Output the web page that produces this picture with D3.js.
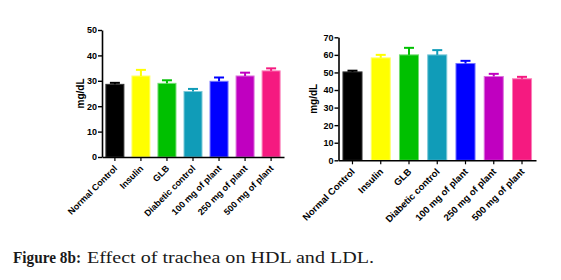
<!DOCTYPE html>
<html>
<head>
<meta charset="utf-8">
<script src="https://cdn.jsdelivr.net/npm/d3@7"></script>
<style>
  body { margin: 0; background: #fff; }
  svg text { font-family: 'Liberation Sans', Arial, sans-serif; }
  .tick text { font-weight: bold; font-size: 9px; }
</style>
</head>
<body>
<svg id="chart" width="561" height="280"></svg>
<script>
const groups = ['Normal Control', 'Insulin', 'GLB', 'Diabetic control', '100 mg of plant', '250 mg of plant', '500 mg of plant']
const barColors = ['#000000', '#ffff00', '#00c000', '#109cb8', '#0000ff', '#c000c0', '#f51a80']
// HDL (left panel)
const hdlMean = [28.6, 31.9, 29.0, 25.8, 29.8, 31.9, 33.9]
const hdlErr = [0.6, 2.4, 1.2, 1.0, 1.5, 1.3, 1.0]
const hdlTicks = [0, 10, 20, 30, 40, 50]
// LDL (right panel)
const ldlMean = [50.3, 58.3, 60.0, 60.0, 55.1, 47.7, 46.4]
const ldlErr = [0.7, 1.7, 4.0, 2.7, 1.5, 1.5, 1.1]
const ldlTicks = [0, 10, 20, 30, 40, 50, 60, 70]

const svg = d3.select('#chart')

let drawPanel = function (opts, means, errs, ticks) {
  let yScale = d3.scaleLinear()
    .domain([0, d3.max(ticks)])
    .range([opts.bottom, opts.top])
  let xScale = d3.scaleBand()
    .domain(groups)
    .range([opts.left, opts.right])
    .paddingInner(opts.padIn)
    .paddingOuter(opts.padOut)
  let g = svg.append('g')

  // bars
  g.selectAll('.bar')
    .data(means)
    .enter()
    .append('rect')
    .attr('x', (d, i) => xScale(groups[i]) + 0.5)
    .attr('width', xScale.bandwidth() - 1)
    .attr('y', d => yScale(d))
    .attr('height', d => yScale(0) - yScale(d))
    .style('fill', (d, i) => barColors[i])
    .style('stroke', (d, i) => d3.interpolateRgb(barColors[i], '#ffffff')(i === 0 ? 0.2 : 0.45))
    .style('stroke-width', 1)

  // error bars (upper only)
  let cx = i => xScale(groups[i]) + xScale.bandwidth() / 2
  g.selectAll('.errStem')
    .data(means)
    .enter()
    .append('line')
    .attr('x1', (d, i) => cx(i))
    .attr('x2', (d, i) => cx(i))
    .attr('y1', d => yScale(d))
    .attr('y2', (d, i) => yScale(d + errs[i]))
    .style('stroke', (d, i) => barColors[i])
    .style('stroke-width', 2)
  g.selectAll('.errCap')
    .data(means)
    .enter()
    .append('line')
    .attr('x1', (d, i) => cx(i) - 5)
    .attr('x2', (d, i) => cx(i) + 5)
    .attr('y1', (d, i) => yScale(d + errs[i]))
    .attr('y2', (d, i) => yScale(d + errs[i]))
    .style('stroke', (d, i) => barColors[i])
    .style('stroke-width', 2)

  // y axis
  let yAxis = g.append('g')
    .attr('transform', `translate(${opts.left},0)`)
    .call(d3.axisLeft(yScale).tickValues(ticks).tickSize(4).tickSizeOuter(0).tickPadding(1))
  yAxis.select('.domain').style('stroke-width', 1.6)
  yAxis.selectAll('.tick line').style('stroke-width', 1.4)
  yAxis.selectAll('.tick text').style('fill', '#000')

  // x axis
  let xAxis = g.append('g')
    .attr('transform', `translate(0,${opts.bottom})`)
    .call(d3.axisBottom(xScale).tickSize(4).tickSizeOuter(0).tickFormat(''))
  xAxis.select('.domain').style('stroke-width', 1.6)
  xAxis.selectAll('.tick line').style('stroke-width', 1.2)

  g.selectAll('.xlab')
    .data(groups)
    .enter()
    .append('text')
    .attr('transform', d => `translate(${xScale(d) + xScale.bandwidth() / 2 + 3},${opts.bottom + 12}) rotate(-45)`)
    .attr('text-anchor', 'end')
    .style('font-size', opts.labSize + 'px')
    .style('font-weight', 'bold')
    .text(d => d)

  // y title
  g.append('text')
    .attr('transform', `translate(${opts.titleX},${(opts.top + opts.bottom) / 2}) rotate(-90)`)
    .attr('text-anchor', 'middle')
    .style('font-size', '10px')
    .style('font-weight', 'bold')
    .text('mg/dL')
}

drawPanel({left: 102, right: 284, top: 30, bottom: 157, padIn: 0.27, padOut: 0.13, titleX: 84, labSize: 9}, hdlMean, hdlErr, hdlTicks)
drawPanel({left: 338.5, right: 536, top: 37.3, bottom: 160.3, padIn: 0.29, padOut: 0.14, titleX: 317, labSize: 9.5}, ldlMean, ldlErr, ldlTicks)

// caption
let capFont = "'Liberation Serif', 'DejaVu Serif', serif"
svg.append('text')
  .attr('x', 13)
  .attr('y', 263)
  .attr('textLength', 68)
  .attr('lengthAdjust', 'spacingAndGlyphs')
  .style('font-family', capFont)
  .style('font-size', '16px')
  .style('font-weight', 'bold')
  .style('fill', '#1a1a1a')
  .text('Figure 8b:')
svg.append('text')
  .attr('x', 87)
  .attr('y', 263)
  .attr('textLength', 287)
  .attr('lengthAdjust', 'spacingAndGlyphs')
  .style('font-family', capFont)
  .style('font-size', '16px')
  .style('fill', '#1a1a1a')
  .text('Effect of trachea on HDL and LDL.')
</script>
</body>
</html>
